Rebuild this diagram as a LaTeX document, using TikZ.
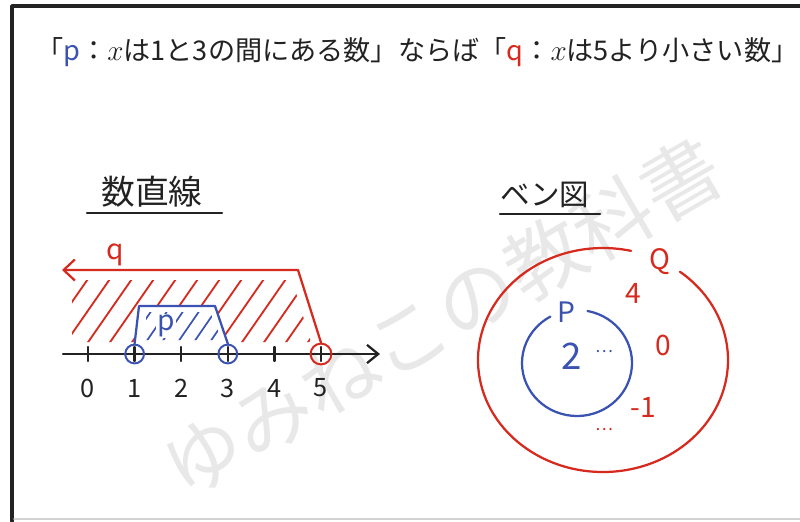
\documentclass[tikz,border=0pt]{standalone}
\usepackage{fontspec}
\setmainfont{Noto Sans CJK JP}
\usepackage{tikz}
\usetikzlibrary{arrows.meta}
\definecolor{penred}{RGB}{214,42,30}
\definecolor{penblue}{RGB}{58,82,178}
\definecolor{ink}{RGB}{34,34,34}
\definecolor{wmgray}{RGB}{232,232,232}

\begin{document}
\begin{tikzpicture}[x=0.025cm, y=-0.025cm, line cap=round, line join=round,
  ink line/.style={draw=ink, line width=1.6pt},
  red line/.style={draw=penred, line width=1.6pt},
  blue line/.style={draw=penblue, line width=1.6pt},
  ring/.style={circle, draw, line width=1.4pt, minimum size=0.47cm, inner sep=0pt},
  numlabel/.style={text=ink, font=\fontsize{18}{18}\selectfont},
  heading/.style={text=ink, font=\fontsize{24}{24}\selectfont},
  setlabel/.style={font=\fontsize{20}{20}\selectfont, inner sep=1pt}]
  \useasboundingbox (0,0) rectangle (800,521);

  % watermark
  \node[text=wmgray, rotate=30, font=\fontsize{56}{56}\selectfont] (wm) at (442,317) {ゆみねこの教科書};

  % frame
  \draw[ink, line width=2.6pt] (12,521) -- (12,6) -- (800,6);
  \draw[gray!35, line width=1pt] (14,519) -- (800,519);

  % title
  \node[anchor=west, inner sep=0pt, text=ink, font=\fontsize{19.3}{19.3}\selectfont] (title) at (36,52)
    {「\textcolor{penblue}{p}：$x$は1と3の間にある数」ならば「\textcolor{penred}{q}：$x$は5より小さい数」};

  % headings
  \node[heading] (hline) at (152,192) {数直線};
  \draw[ink line] (87,213) -- (222,213);
  \node[heading, font=\fontsize{21}{21}\selectfont] (hvenn) at (545,195) {ベン図};
  \draw[ink line] (500,214) -- (600,214);

  % number line
  \coordinate (axL) at (63,354);
  \coordinate (axR) at (380,354);
  \draw[ink line, -{Straight Barb[length=8pt, width=13pt]}] (axL) -- (axR);
  \foreach \i in {0,...,5} {
    \coordinate (t\i) at (88+46.6*\i,354);
    \draw[ink line] ([yshift=-5pt]t\i) -- ([yshift=5pt]t\i);
    \node[numlabel] (n\i) at (88+46.6*\i,388) {\i};
  }

  % q region
  \node[ring, draw=penred, minimum size=0.52cm] (o5) at (t5) {};
  \coordinate (qc) at (298,270);
  \coordinate (qend) at (62,270);
  \begin{scope}
    \clip (72,280) -- (292,280) -- (311,342) -- (72,342) -- cycle;
    \foreach \s in {0,...,13}
      \draw[red line, line width=1.3pt] (40+22*\s,348) -- ++(50,-72);
  \end{scope}
  \draw[red line, -{Straight Barb[length=8pt, width=15pt]}] (o5.north) -- (qc) -- (qend);
  \node[setlabel, text=penred] (qlab) at (115,255) {q};

  % p region
  \node[ring, draw=penblue] (o1) at (t1) {};
  \node[ring, draw=penblue] (o3) at (t3) {};
  \coordinate (pa) at (139,306);
  \coordinate (pb) at (215,306);
  \fill[white] (o1.north) -- (pa) -- (pb) -- (o3.north) -- cycle;
  \begin{scope}
    \clip (146,312) -- (210,312) -- (222,340) -- (146,340) -- cycle;
    \foreach \s in {0,...,5}
      \draw[blue line, line width=1.2pt] (130+16*\s,342) -- ++(22,-32);
  \end{scope}
  \draw[blue line] (o1.north) -- (pa) -- (pb) -- (o3.north);
  \node[setlabel, text=penblue, fill=white] (plab) at (166,326) {p};

  % venn diagram
  \coordinate (cQ) at (603,360);
  \coordinate (cP) at (577,363);
  \draw[red line] (cQ) ++(-52:125 and 112) arc[start angle=-52, end angle=283, x radius=125, y radius=112];
  \draw[blue line] (cP) ++(-79:55 and 53) arc[start angle=-79, end angle=241, x radius=55, y radius=53];
  \node[setlabel, text=penred] (Qlab) at (660,262) {Q};
  \node[setlabel, text=penblue] (Plab) at (566,312) {P};
  \node[setlabel, text=penblue, font=\fontsize{26}{26}\selectfont] (two) at (572,356) {2};
  \node[setlabel, text=penblue, font=\fontsize{12}{12}\selectfont] (pdots) at (604,352) {…};
  \node[setlabel, text=penred] (four) at (633,293) {4};
  \node[setlabel, text=penred] (zero) at (663,345) {0};
  \node[setlabel, text=penred] (mone) at (643,407) {-1};
  \node[setlabel, text=penred, font=\fontsize{12}{12}\selectfont] (qdots) at (604,430) {…};
\end{tikzpicture}
\end{document}
